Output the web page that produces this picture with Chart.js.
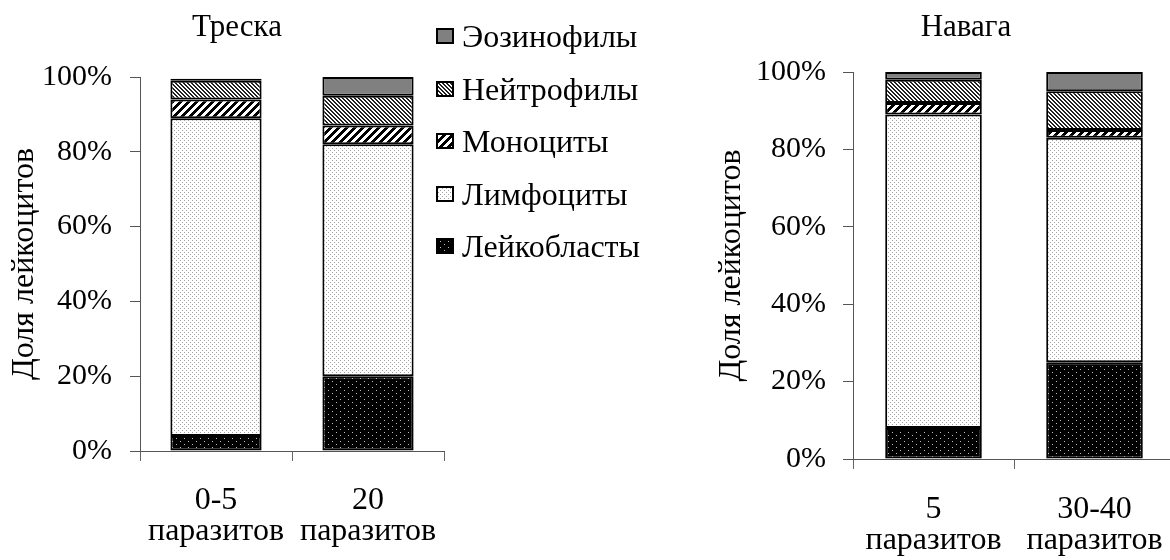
<!DOCTYPE html>
<html>
<head>
<meta charset="utf-8">
<script src="https://cdn.jsdelivr.net/npm/chart.js@4.4.1/dist/chart.umd.min.js"></script>
<style>
  html, body { margin: 0; padding: 0; background: #fff; overflow: hidden; }
  #wrap { position: relative; width: 1170px; height: 560px; overflow: hidden;
          font-family: "Liberation Serif", "Times New Roman", serif; color: #000; }
  #wrap canvas.chart { position: absolute; top: 0; }
  .ttl { position: absolute; top: 11px; font-size: 31px; line-height: 30px; white-space: nowrap;
         transform: translateX(-50%); }
  #legend { position: absolute; left: 436px; top: 10px; }
  .li { display: flex; align-items: center; height: 52.5px; font-size: 32px; line-height: 30px; white-space: nowrap; }
  .li canvas { margin-right: 8px; }
</style>
</head>
<body>
<div id="wrap">
  <canvas id="cod" class="chart" width="460" height="560" style="left:0"></canvas>
  <canvas id="navaga" class="chart" width="475" height="560" style="left:700px"></canvas>
  <div class="ttl" style="left:237px">Треска</div>
  <div class="ttl" style="left:966px">Навага</div>
  <div id="legend"></div>
</div>
<script>
// Доля лейкоцитов, %

const FONT = '"Liberation Serif", "Times New Roman", serif';

const seriesNames = ['Лейкобласты', 'Лимфоциты', 'Моноциты', 'Нейтрофилы', 'Эозинофилы'];
const yTicks = [0, 20, 40, 60, 80, 100];

// Треска
const codLabels = [['0-5', 'паразитов'], ['20', 'паразитов']];
const codLeukoblasts = [4, 20];
const codLymphocytes = [85, 62];
const codMonocytes = [5, 5];
const codNeutrophils = [5, 8];
const codEosinophils = [0.5, 5];

// Навага
const navagaLabels = [['5', 'паразитов'], ['30-40', 'паразитов']];
const navagaLeukoblasts = [8, 25];
const navagaLymphocytes = [81, 58];
const navagaMonocytes = [3, 2];
const navagaNeutrophils = [6, 10];
const navagaEosinophils = [2, 5];

// штриховки как в Excel
function tile(w, h, bg, fg, on) {
  const c = document.createElement('canvas');
  c.width = w; c.height = h;
  const x = c.getContext('2d');
  x.fillStyle = bg; x.fillRect(0, 0, w, h);
  x.fillStyle = fg;
  for (let i = 0; i < w; i++)
    for (let j = 0; j < h; j++)
      if (on(i, j)) x.fillRect(i, j, 1, 1);
  return x.createPattern(c, 'repeat');
}

const fills = [
  tile(8, 6, '#000', '#bdbdbd', (x, y) => (x === 0 && y === 0) || (x === 4 && y === 3)),
  tile(4, 4, '#fff', '#a0a0a0', (x, y) => (x === 0 && y === 0) || (x === 2 && y === 2)),
  tile(8, 8, '#fff', '#000', (x, y) => (x + y) % 8 < 4),
  tile(4, 4, '#fff', '#222', (x, y) => (((x - y) % 4) + 4) % 4 < 2),
  '#808080'
];

function buildChart(id, labels, series, o) {
  return new Chart(document.getElementById(id), {
    type: 'bar',
    data: {
      labels: labels,
      datasets: series.map((d, i) => ({
        label: seriesNames[i],
        data: d,
        backgroundColor: fills[i],
        borderColor: '#000',
        borderWidth: 2,
        borderSkipped: false,
        barPercentage: 0.6,
        categoryPercentage: 1
      }))
    },
    options: {
      responsive: false,
      animation: false,
      layout: { padding: { top: o.top, right: o.right, left: 0, bottom: 0 } },
      plugins: { legend: { display: false }, tooltip: { enabled: false } },
      scales: {
        x: {
          stacked: true,
          grid: { display: true, drawOnChartArea: false, drawTicks: true, tickLength: 10, color: '#666', offset: true },
          border: { color: '#555', width: 1 },
          ticks: { color: '#000', font: { family: FONT, size: 32, lineHeight: 0.94 }, padding: o.xPad, maxRotation: 0, autoSkip: false },
          afterFit: s => { s.height = o.xHeight; s.paddingLeft = 0; s.paddingRight = 0; }
        },
        y: {
          stacked: true,
          min: 0, max: 100,
          afterBuildTicks: s => { s.ticks = yTicks.map(v => ({ value: v })); },
          ticks: { color: '#000', font: { family: FONT, size: 30 }, padding: o.yPad, callback: v => v + '%' },
          grid: { drawOnChartArea: false, drawTicks: true, tickLength: 10, color: '#555' },
          border: { color: '#555', width: 1 },
          title: { display: true, text: 'Доля лейкоцитов', color: '#000',
                   font: { family: FONT, size: 32, lineHeight: 1.2 }, padding: { top: o.titlePad, bottom: 0 } },
          afterFit: s => { s.width = o.yWidth; }
        }
      }
    }
  });
}

const codChart = buildChart('cod', codLabels,
  [codLeukoblasts, codLymphocytes, codMonocytes, codNeutrophils, codEosinophils],
  { top: 77, right: 16, xHeight: 109, yWidth: 140, xPad: 25, yPad: 18, titlePad: 5 });

buildChart('navaga', navagaLabels,
  [navagaLeukoblasts, navagaLymphocytes, navagaMonocytes, navagaNeutrophils, navagaEosinophils],
  { top: 72, right: 0, xHeight: 101, yWidth: 153, xPad: 26, yPad: 17, titlePad: 12 });

// легенда (сверху вниз — в обратном порядке)
const legendEl = document.getElementById('legend');
codChart.data.datasets.slice().reverse().forEach(ds => {
  const row = document.createElement('div');
  row.className = 'li';
  const sw = document.createElement('canvas');
  sw.width = 18; sw.height = 16;
  const sctx = sw.getContext('2d');
  sctx.fillStyle = ds.backgroundColor;
  sctx.fillRect(0, 0, 18, 16);
  sctx.strokeStyle = '#000';
  sctx.lineWidth = 2;
  sctx.strokeRect(1, 1, 16, 14);
  const t = document.createElement('span');
  t.textContent = ds.label;
  row.appendChild(sw);
  row.appendChild(t);
  legendEl.appendChild(row);
});
</script>
</body>
</html>
